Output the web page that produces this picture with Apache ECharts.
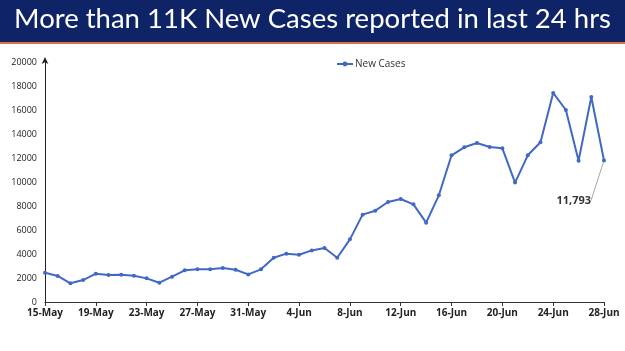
<!DOCTYPE html>
<html>
<head>
<meta charset="utf-8">
<script src="https://cdn.jsdelivr.net/npm/echarts@6/dist/echarts.min.js"></script>
<style>
  html, body { margin: 0; padding: 0; background: #fff; }
  #chart { width: 625px; height: 351px; }
</style>
</head>
<body>
<div id="chart"></div>
<script>
const days = [
  '15-May', '16-May', '17-May', '18-May', '19-May', '20-May', '21-May', '22-May',
  '23-May', '24-May', '25-May', '26-May', '27-May', '28-May', '29-May', '30-May',
  '31-May', '1-Jun', '2-Jun', '3-Jun', '4-Jun', '5-Jun', '6-Jun', '7-Jun',
  '8-Jun', '9-Jun', '10-Jun', '11-Jun', '12-Jun', '13-Jun', '14-Jun', '15-Jun',
  '16-Jun', '17-Jun', '18-Jun', '19-Jun', '20-Jun', '21-Jun', '22-Jun', '23-Jun',
  '24-Jun', '25-Jun', '26-Jun', '27-Jun', '28-Jun'
];
const newCases = [
  2440, 2170, 1560, 1830, 2360, 2250, 2280, 2190,
  1970, 1610, 2110, 2640, 2720, 2720, 2830, 2690,
  2300, 2720, 3690, 4030, 3940, 4300, 4500, 3690,
  5220, 7280, 7610, 8330, 8580, 8140, 6610, 8890,
  12225, 12890, 13250, 12920, 12810, 9950, 12225, 13310,
  17420, 16000, 11780, 17080, 11793
];
const yTicks = { min: 0, max: 20000, step: 2000 };
const title = 'More than 11K New Cases reported in last 24 hrs';

const chart = echarts.init(document.getElementById('chart'));

const lastIdx = newCases.length - 1;
const seriesData = newCases.map((v, i) => {
  if (i !== lastIdx) return v;
  return {
    value: v,
    label: {
      show: true,
      position: 'left',
      formatter: '11,793',
      fontSize: 11,
      fontWeight: 'bold',
      color: '#333',
      fontFamily: 'Open Sans'
    }
  };
});

chart.setOption({
  animation: false,
  graphic: [
    { type: 'rect', left: 0, top: 0, shape: { width: 625, height: 42 }, style: { fill: '#0f2466' }, z: 0 },
    { type: 'rect', left: 0, top: 42, shape: { width: 625, height: 2 }, style: { fill: '#e0703f' }, z: 0 },
    {
      type: 'text', left: 'center', top: 5, z: 1,
      style: { text: title, fill: '#fff', font: '27.5px Lato' }
    }
  ],
  legend: {
    data: ['New Cases'],
    left: 331, top: 54,
    itemWidth: 16, itemHeight: 6, itemGap: 4,
    textStyle: { fontSize: 10, color: '#333', fontFamily: 'Open Sans', padding: [0, 0, 0, -3] }
  },
  grid: { left: 45, right: 21, top: 62, bottom: 49, containLabel: false },
  xAxis: {
    type: 'category',
    data: days,
    boundaryGap: false,
    axisLine: { lineStyle: { color: '#333', width: 1 } },
    axisTick: { interval: 3, length: 4, lineStyle: { color: '#333' } },
    axisLabel: {
      interval: 3, fontSize: 10, fontWeight: 'bold', color: '#222',
      fontFamily: 'Open Sans', margin: 6
    },
    splitLine: { show: false }
  },
  yAxis: {
    type: 'value',
    min: yTicks.min, max: yTicks.max, interval: yTicks.step,
    axisLine: {
      show: true, symbol: ['none', 'arrow'], symbolSize: [5, 7], symbolOffset: [0, 5],
      lineStyle: { color: '#222', width: 1 }
    },
    axisTick: { show: false },
    axisLabel: {
      fontSize: 9, color: '#222', fontFamily: 'Open Sans', margin: 8,
      formatter: (v) => String(v)
    },
    splitLine: { show: false }
  },
  series: [{
    name: 'New Cases',
    type: 'line',
    data: seriesData,
    symbol: 'circle',
    symbolSize: 4,
    lineStyle: { color: '#4169c4', width: 2 },
    itemStyle: { color: '#4169c4' },
    labelLayout: (params) => params.dataIndex === lastIdx ? { dx: -6, dy: 40 } : {},
    labelLine: { show: true, lineStyle: { color: '#a6a6a6', width: 1 } }
  }]
});
</script>
</body>
</html>
